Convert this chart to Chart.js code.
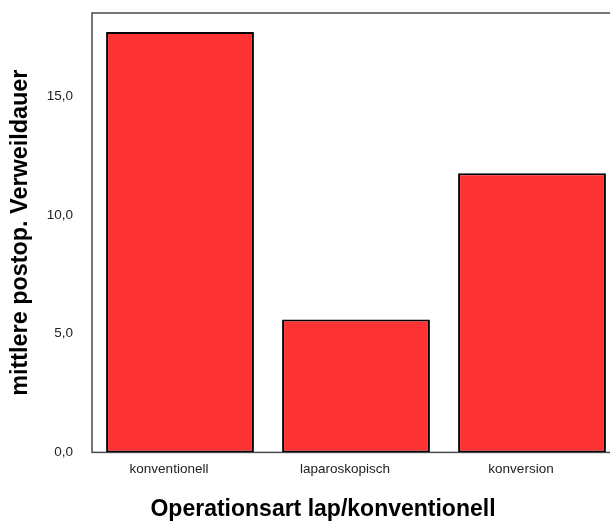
<!DOCTYPE html>
<html>
<head>
<meta charset="utf-8">
<script src="https://cdn.jsdelivr.net/npm/chart.js@4.4.0/dist/chart.umd.min.js"></script>
<style>
  html, body { margin: 0; padding: 0; background: #fff; overflow: hidden; }
  canvas { display: block; }
</style>
</head>
<body>
<canvas id="chart" width="642" height="523"></canvas>
<script>
const categories = ['konventionell', 'laparoskopisch', 'konversion'];
const meanStay   = [17.7, 5.6, 11.75];
const yTicks     = [0, 5, 10, 15];

const xTitle = 'Operationsart lap/konventionell';
const yTitle = 'mittlere postop. Verweildauer';

// frame around the plot area, like the original
const frame = {
  id: 'frame',
  beforeDatasetsDraw(chart) {
    const { ctx, chartArea: a } = chart;
    ctx.save();
    ctx.strokeStyle = '#4a4a4a';
    ctx.lineWidth = 1.5;
    ctx.strokeRect(a.left, a.top, a.right - a.left, a.bottom - a.top);
    ctx.restore();
  }
};

new Chart(document.getElementById('chart'), {
  type: 'bar',
  data: {
    labels: categories,
    datasets: [{
      data: meanStay,
      backgroundColor: '#ff3334',
      borderColor: '#000',
      borderWidth: 2,
      borderSkipped: false,
      categoryPercentage: 1,
      barPercentage: 0.84
    }]
  },
  options: {
    responsive: false,
    animation: false,
    layout: { autoPadding: false, padding: { top: 13, left: 4, right: 0, bottom: 0 } },
    plugins: {
      legend: { display: false },
      tooltip: { enabled: false },
      title: {
        display: true,
        position: 'bottom',
        text: xTitle,
        color: '#000',
        font: { family: 'Liberation Sans', size: 23, weight: 'bold' },
        padding: { top: 12, bottom: 0 }
      }
    },
    scales: {
      x: {
        grid: { display: false, drawTicks: false },
        border: { display: false },
        ticks: {
          color: '#222',
          padding: 9,
          labelOffset: -11,
          font: { family: 'Liberation Sans', size: 13.5 }
        },
        afterFit(s) { s.height = 31; s.paddingLeft = 0; s.paddingRight = 0; }
      },
      y: {
        min: 0,
        max: 18.5,
        grid: { display: false, drawTicks: false },
        border: { display: false },
        afterBuildTicks(s) { s.ticks = yTicks.map(v => ({ value: v })); },
        ticks: {
          color: '#222',
          padding: 19,
          font: { family: 'Liberation Sans', size: 13.5 },
          callback: v => v.toFixed(1).replace('.', ',')
        },
        title: {
          display: true,
          text: yTitle,
          color: '#000',
          font: { family: 'Liberation Sans', size: 23.4, weight: 'bold' },
          padding: { top: 3, bottom: 4 }
        },
        // fixed width; drop the label overhang so the plot can start at the top padding
        afterFit(s) { s.width = 88; s.paddingTop = 0; s.paddingBottom = 0; }
      },
      // empty right-hand strip so the plot runs past the window edge
      y2: {
        position: 'right',
        grid: { display: false },
        border: { display: false },
        ticks: { display: false },
        afterFit(s) { s.width = 22; s.paddingTop = 0; s.paddingBottom = 0; }
      }
    }
  },
  plugins: [frame]
});
</script>
</body>
</html>
